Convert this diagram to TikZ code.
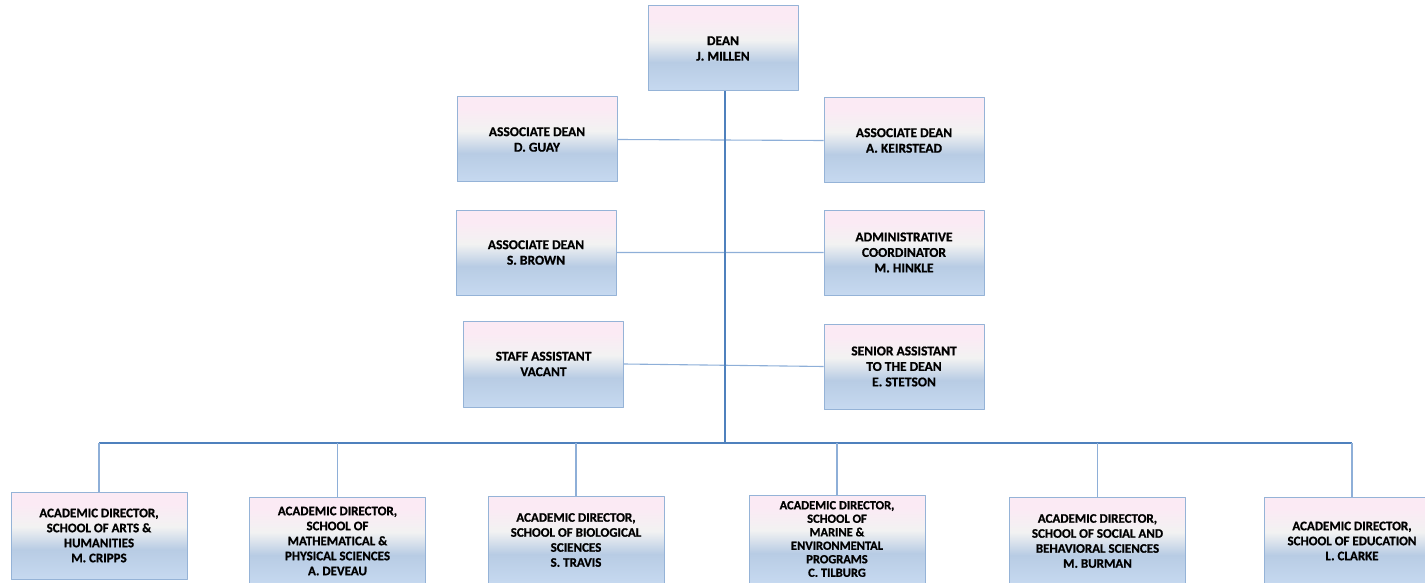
\documentclass[tikz,border=0pt]{standalone}
\usepackage{fontspec}
\setmainfont{Carlito}[BoldFeatures={FakeBold=0.8}]
\definecolor{boxline}{HTML}{95B3D7}
\definecolor{busline}{HTML}{4F81BD}
\definecolor{dropline}{HTML}{8EAFD8}
\definecolor{shbot}{HTML}{C6D9F0}
\definecolor{shblue}{HTML}{B8CCE4}
\definecolor{shgray}{HTML}{F2F2F2}
\definecolor{shpink}{HTML}{FBEAF4}
\pgfdeclareverticalshading{boxshade}{100bp}{color(0bp)=(shbot); color(25bp)=(shbot); color(42bp)=(shblue); color(55bp)=(shgray); color(68bp)=(shpink); color(100bp)=(shpink)}
\tikzset{
	post/.style={draw=boxline,line width=1pt,shading=boxshade,align=center,inner sep=2pt,
		minimum width=160,minimum height=85,font=\fontsize{13.5}{15.5}\selectfont\bfseries},
	school/.style={post,minimum width=176,minimum height=88,font=\fontsize{13}{15}\selectfont\bfseries},
	bus/.style={draw=busline,line width=1.6pt},
	drop/.style={draw=dropline,line width=1.1pt}
}
\begin{document}
\begin{tikzpicture}[x=1pt,y=-1pt,line join=round]
	\useasboundingbox (0,0) rectangle (1425,583);
	\clip (0,0) rectangle (1425,583);
	\node[post,minimum width=150] (dean) at (723,48.5) {DEAN\\J. MILLEN};
	\node[post] (guay) at (537,139.5) {ASSOCIATE DEAN\\D. GUAY};
	\node[post] (keirstead) at (904,140.5) {ASSOCIATE DEAN\\A. KEIRSTEAD};
	\node[post] (brown) at (536,252.5) {ASSOCIATE DEAN\\S. BROWN};
	\node[post] (hinkle) at (904,252.5) {ADMINISTRATIVE\\COORDINATOR\\M. HINKLE};
	\node[post,minimum height=86] (staff) at (543.5,364) {STAFF ASSISTANT\\VACANT};
	\node[post] (stetson) at (904,366.5) {SENIOR ASSISTANT\\TO THE DEAN\\E. STETSON};
	\coordinate (bus) at (725,443);
	\node[school,minimum height=87] (cripps) at (99,535.5) {ACADEMIC DIRECTOR,\\SCHOOL OF ARTS \&\\HUMANITIES\\M. CRIPPS};
	\node[school] (deveau) at (337.5,541) {ACADEMIC DIRECTOR,\\SCHOOL OF\\MATHEMATICAL \&\\PHYSICAL SCIENCES\\A. DEVEAU};
	\node[school] (travis) at (576,540) {ACADEMIC DIRECTOR,\\SCHOOL OF BIOLOGICAL\\SCIENCES\\S. TRAVIS};
	\node[school,font=\fontsize{12.5}{13.5}\selectfont\bfseries] (tilburg) at (837,539) {ACADEMIC DIRECTOR,\\SCHOOL OF\\MARINE \&\\ENVIRONMENTAL\\PROGRAMS\\C. TILBURG};
	\node[school] (burman) at (1097.5,541) {ACADEMIC DIRECTOR,\\SCHOOL OF SOCIAL AND\\BEHAVIORAL SCIENCES\\M. BURMAN};
	\node[school] (clarke) at (1352,541) {ACADEMIC DIRECTOR,\\SCHOOL OF EDUCATION\\L. CLARKE};
	\draw[drop] (guay.east)--(keirstead.west) (brown.east)--(hinkle.west) (staff.east)--(stetson.west);
	\draw[bus] (dean.south-|bus)--(bus);
	\draw[bus] (cripps.north|-bus)--(clarke.north|-bus);
	\foreach \s in {cripps,deveau,travis,tilburg,burman,clarke}
		\draw[drop] (\s.north)--(\s.north|-bus);
\end{tikzpicture}
\end{document}
